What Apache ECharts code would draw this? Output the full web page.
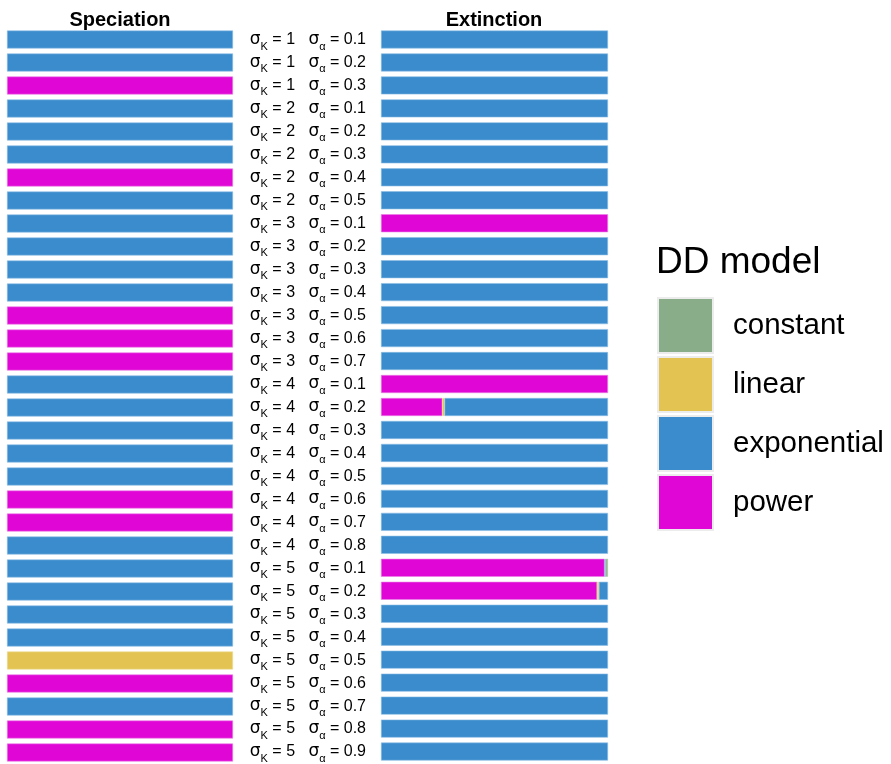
<!DOCTYPE html>
<html>
<head>
<meta charset="utf-8">
<script src="https://cdn.jsdelivr.net/npm/echarts@6/dist/echarts.min.js"></script>
<style>html,body{margin:0;padding:0;background:#fff}#c{width:891px;height:764px}</style>
</head>
<body>
<div id="c"></div>
<script>
// Row parameters
const sigmaK = [1,1,1,2,2,2,2,2,3,3,3,3,3,3,3,4,4,4,4,4,4,4,4,5,5,5,5,5,5,5,5,5];
const sigmaA = ['0.1','0.2','0.3','0.1','0.2','0.3','0.4','0.5','0.1','0.2','0.3','0.4','0.5','0.6','0.7','0.1','0.2','0.3','0.4','0.5','0.6','0.7','0.8','0.1','0.2','0.3','0.4','0.5','0.6','0.7','0.8','0.9'];
const models = ['constant','linear','exponential','power'];

// Speciation proportions per model
const specPower       = [0,0,1,0,0,0,1,0,0,0,0,0,1,1,1,0,0,0,0,0,1,1,0,0,0,0,0,0,1,0,1,1];
const specLinear      = [0,0,0,0,0,0,0,0,0,0,0,0,0,0,0,0,0,0,0,0,0,0,0,0,0,0,0,1,0,0,0,0];
const specExponential = [1,1,0,1,1,1,0,1,1,1,1,1,0,0,0,1,1,1,1,1,0,0,1,1,1,1,1,0,0,1,0,0];
const specConstant    = [0,0,0,0,0,0,0,0,0,0,0,0,0,0,0,0,0,0,0,0,0,0,0,0,0,0,0,0,0,0,0,0];

// Extinction proportions per model
const extPower        = [0,0,0,0,0,0,0,0,1,0,0,0,0,0,0,1,0.27,0,0,0,0,0,0,0.985,0.952,0,0,0,0,0,0,0];
const extLinear       = [0,0,0,0,0,0,0,0,0,0,0,0,0,0,0,0,0.01,0,0,0,0,0,0,0,0.008,0,0,0,0,0,0,0];
const extExponential  = [1,1,1,1,1,1,1,1,0,1,1,1,1,1,1,0,0.72,1,1,1,1,1,1,0.005,0.04,1,1,1,1,1,1,1];
const extConstant     = [0,0,0,0,0,0,0,0,0,0,0,0,0,0,0,0,0,0,0,0,0,0,0,0.01,0,0,0,0,0,0,0,0];

const colors = {constant:'#88ad88', linear:'#e3c452', exponential:'#3a8ccd', power:'#df06d6'};
const edges  = {constant:'#b4cdb4', linear:'#efdb95', exponential:'#8dbde5', power:'#ec7fe6'};

const rowLabels = sigmaK.map((k,i)=>'{s|σ}{sub|K}{t| = '+k+'   }{s|σ}{sub|α}{t| = '+sigmaA[i]+'}');
const cats = sigmaK.map((k,i)=>k+'_'+sigmaA[i]);

const chart = echarts.init(document.getElementById('c'));

function mk(name, data, gi){
  return {
    name, type:'bar', stack:'s'+gi, xAxisIndex:gi, yAxisIndex:gi,
    data: data.map(v => v === 0 ? null : v), barWidth:18,
    itemStyle:{color:colors[name], borderColor:edges[name], borderWidth:0.6},
    emphasis:{disabled:true}
  };
}
const series = [
  mk('power', specPower, 0), mk('linear', specLinear, 0), mk('exponential', specExponential, 0), mk('constant', specConstant, 0),
  mk('power', extPower, 1), mk('linear', extLinear, 1), mk('exponential', extExponential, 1), mk('constant', extConstant, 1)
];

chart.setOption({
  animation:false,
  textStyle:{fontFamily:'Liberation Sans, Arial, sans-serif'},
  title:[
    {text:'Speciation', left:115, top:5, textAlign:'center', textStyle:{fontSize:20, fontWeight:'bold', color:'#000'}},
    {text:'Extinction', left:489, top:5, textAlign:'center', textStyle:{fontSize:20, fontWeight:'bold', color:'#000'}},
    {text:'DD model', left:651, top:239, textStyle:{fontSize:37, fontWeight:'normal', color:'#000'}}
  ],
  legend:{
    data:models, orient:'vertical', left:657, top:297, padding:0, itemWidth:55, itemHeight:55, itemGap:2,
    icon:'rect', selectedMode:false,
    itemStyle:{borderColor:'#ececec', borderWidth:2},
    textStyle:{fontSize:29.5, color:'#000', padding:[0,0,0,15]}
  },
  grid:[
    {left:7, width:226, top:28, bottom:-2.5},
    {left:381, width:227, top:28, bottom:-2.5}
  ],
  xAxis:[
    {type:'value', gridIndex:0, min:0, max:1, show:false},
    {type:'value', gridIndex:1, min:0, max:1, show:false}
  ],
  yAxis:[
    {type:'category', gridIndex:0, data:cats, inverse:true, axisLine:{show:false}, axisTick:{show:false}, axisLabel:{show:false}},
    {type:'category', gridIndex:1, data:cats, inverse:true, axisLine:{show:false}, axisTick:{show:false},
     axisLabel:{margin:15, align:'right', formatter:(v,i)=>rowLabels[i],
       rich:{
         s:{fontSize:17, color:'#000', fontFamily:'DejaVu Sans, sans-serif', verticalAlign:'bottom'},
         sub:{fontSize:11, color:'#000', padding:[0,0,-4,0], verticalAlign:'bottom'},
         t:{fontSize:16, color:'#000', verticalAlign:'bottom'}
       }}}
  ],
  series
});
</script>
</body>
</html>
